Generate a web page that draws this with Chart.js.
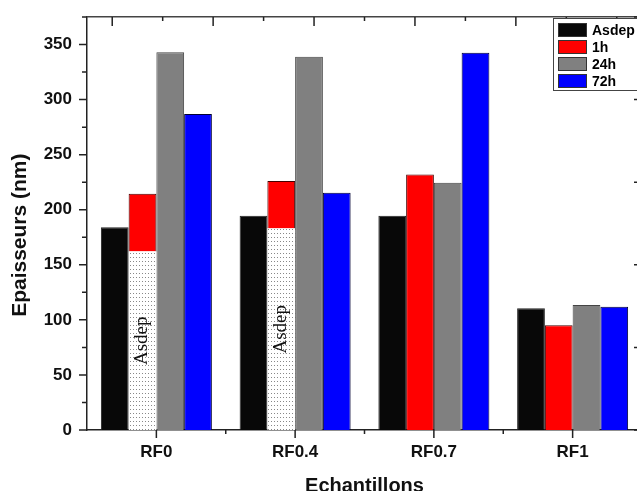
<!DOCTYPE html>
<html>
<head>
<meta charset="utf-8">
<script src="https://cdn.jsdelivr.net/npm/chart.js@4.4.1/dist/chart.umd.min.js"></script>
<style>
    html, body { margin: 0; padding: 0; background: #fff; overflow: hidden; }
    #chart { display: block; }
</style>
</head>
<body>
<canvas id="chart" width="645" height="491"></canvas>
<script>
// ---- data ----
const categories = ['RF0', 'RF0.4', 'RF0.7', 'RF1'];
const asdep = [184, 194.5, 194.5, 110.5];
const oneHour = [214.5, 226, 232, 95];
const oneHourAsdepPart = [162, 183, null, null];   // dotted "Asdep" part inside the 1h bar
const day = [343, 339, 224.5, 113.5];
const threeDays = [287, 215.5, 342.5, 112];

const seriesLabels = ['Asdep', '1h', '24h', '72h'];
const seriesColors = ['#080808', '#ff0000', '#808080', '#0000ff'];

/**
 * White tile with small dots, used for the "Asdep" part of the 1h bars
 */
function dotPattern() {
    const c = document.createElement('canvas');
    c.width = 3;
    c.height = 4;
    const g = c.getContext('2d');
    g.fillStyle = '#fff';
    g.fillRect(0, 0, 3, 4);
    g.fillStyle = '#888';
    g.fillRect(1, 1, 1, 1);
    return g.createPattern(c, 'repeat');
}

// ticks on all four frame sides (Origin style, minor + major, in or out)
const frameTicks = {
    id: 'frameTicks',
    afterDraw(chart, args, opts) {
        const ctx = chart.ctx;
        const area = chart.chartArea;
        ctx.save();
        ctx.strokeStyle = '#222';
        ctx.lineWidth = 1.5;
        for (const [id, cfg] of Object.entries(opts.axes)) {
            const scale = chart.scales[id];
            const marks = [];
            if (scale.type === 'category') {
                scale.ticks.forEach((t, i) => {
                    marks.push([scale.getPixelForTick(i), cfg.major]);
                    if (i < scale.ticks.length - 1) {
                        marks.push([(scale.getPixelForTick(i) + scale.getPixelForTick(i + 1)) / 2, cfg.minor]);
                    }
                });
            } else {
                scale.ticks.forEach(t => {
                    const r = t.value / cfg.step;
                    const major = Math.abs(r - Math.round(r)) < 1e-6;
                    marks.push([scale.getPixelForValue(t.value), major ? cfg.major : cfg.minor]);
                });
            }
            const sign = cfg.dir === 'out' ? 1 : -1;
            ctx.beginPath();
            marks.forEach(([p, len]) => {
                if (scale.position === 'left') {
                    ctx.moveTo(area.left, p); ctx.lineTo(area.left - sign * len, p);
                } else if (scale.position === 'right') {
                    ctx.moveTo(area.right, p); ctx.lineTo(area.right + sign * len, p);
                } else if (scale.position === 'top') {
                    ctx.moveTo(p, area.top); ctx.lineTo(p, area.top - sign * len);
                } else {
                    ctx.moveTo(p, area.bottom); ctx.lineTo(p, area.bottom + sign * len);
                }
            });
            ctx.stroke();
        }
        ctx.restore();
    }
};

// rotated "Asdep" text inside the dotted segments
const segmentText = {
    id: 'segmentText',
    afterDatasetsDraw(chart) {
        const idx = chart.data.datasets.findIndex(d => d.segment);
        const meta = chart.getDatasetMeta(idx);
        const ctx = chart.ctx;
        ctx.save();
        ctx.font = '19px "Liberation Serif", "DejaVu Serif", serif';
        ctx.fillStyle = '#111';
        ctx.textAlign = 'center';
        ctx.textBaseline = 'middle';
        meta.data.forEach((bar, i) => {
            if (chart.data.datasets[idx].data[i] == null) return;
            ctx.save();
            ctx.translate(bar.x, (bar.y + bar.base) / 2);
            ctx.rotate(-Math.PI / 2);
            ctx.fillText('Asdep', 0, 0);
            ctx.restore();
        });
        ctx.restore();
    }
};

// boxed legend in the upper right corner
const boxLegend = {
    id: 'boxLegend',
    afterDraw(chart) {
        const ctx = chart.ctx;
        const area = chart.chartArea;
        const x = 553, y = area.top + 1, rowH = 17;
        ctx.save();
        ctx.fillStyle = '#fff';
        ctx.fillRect(x, y, area.right - x, rowH * seriesLabels.length + 4);
        ctx.strokeStyle = '#444';
        ctx.lineWidth = 1;
        ctx.strokeRect(x + 0.5, y + 0.5, area.right - x, rowH * seriesLabels.length + 4);
        ctx.font = 'bold 14px "Liberation Sans", Arial, sans-serif';
        ctx.textBaseline = 'middle';
        seriesLabels.forEach((label, i) => {
            const top = y + 5 + i * rowH;
            ctx.fillStyle = seriesColors[i];
            ctx.fillRect(x + 5, top, 29, 14);
            ctx.strokeStyle = '#333';
            ctx.strokeRect(x + 5.5, top + 0.5, 28, 13);
            ctx.fillStyle = '#000';
            ctx.fillText(label, x + 39, top + 8);
        });
        ctx.restore();
    }
};

const tickFont = { family: '"Liberation Sans", Arial, sans-serif', size: 17, weight: 'bold' };
const titleFont = { family: '"Liberation Sans", Arial, sans-serif', size: 20, weight: 'bold' };

const barStyle = { borderWidth: 1, borderColor: '#222', categoryPercentage: 0.8, barPercentage: 1.0 };

new Chart(document.getElementById('chart'), {
    type: 'bar',
    data: {
        labels: categories,
        datasets: [
            { label: seriesLabels[0], data: asdep, backgroundColor: seriesColors[0], stack: 's0', ...barStyle },
            { label: 'Asdep (1h)', data: oneHourAsdepPart, backgroundColor: dotPattern(), stack: 's1', segment: true,
              ...barStyle, borderWidth: 0 },
            { label: seriesLabels[1], data: oneHour.map((v, i) => v - (oneHourAsdepPart[i] || 0)),
              backgroundColor: seriesColors[1], stack: 's1', ...barStyle, borderColor: '#400' },
            { label: seriesLabels[2], data: day, backgroundColor: seriesColors[2], stack: 's2', ...barStyle, borderColor: '#444' },
            { label: seriesLabels[3], data: threeDays, backgroundColor: seriesColors[3], stack: 's3', ...barStyle, borderColor: '#003' }
        ]
    },
    options: {
        responsive: false,
        animation: false,
        layout: { padding: 0 },
        plugins: {
            legend: { display: false },
            tooltip: { enabled: false },
            frameTicks: {
                axes: {
                    y: { dir: 'out', step: 50, major: 8, minor: 5 },
                    x: { dir: 'out', major: 8, minor: 4 },
                    x2: { dir: 'in', step: 1, major: 9, minor: 4 },
                    y2: { dir: 'in', step: 1, major: 8, minor: 4 }
                }
            }
        },
        scales: {
            x: {
                stacked: true,
                grid: { display: false },
                border: { display: true, color: '#222', width: 1.5 },
                ticks: { color: '#111', font: tickFont, padding: 4 },
                title: { display: true, text: 'Echantillons', color: '#111', font: titleFont, padding: { top: 0, bottom: -7 } },
                afterFit: s => { s.height = 61; s.paddingLeft = 0; s.paddingRight = 0; }
            },
            y: {
                stacked: true,
                min: 0,
                max: 375,
                grid: { display: false },
                border: { display: true, color: '#222', width: 1.5 },
                ticks: {
                    stepSize: 25,
                    autoSkip: false,
                    color: '#111',
                    font: tickFont,
                    padding: 7,
                    callback: v => (v % 50 === 0 ? v : '')
                },
                title: { display: true, text: 'Epaisseurs (nm)\u00a0\u00a0\u00a0\u00a0', color: '#111',
                         font: { ...titleFont, size: 21 }, padding: { top: 8, bottom: 0 } },
                afterFit: s => { s.width = 87; s.paddingTop = 0; s.paddingBottom = 0; }
            },
            x2: {
                type: 'linear',
                position: 'top',
                min: 0,
                max: 5,
                grid: { display: false },
                border: { display: true, color: '#444', width: 1.5 },
                ticks: { display: false, stepSize: 0.5 },
                afterFit: s => { s.height = 17; }
            },
            y2: {
                type: 'linear',
                position: 'right',
                min: 0,
                max: 5,
                grid: { display: false },
                border: { display: true, color: '#222', width: 1.5 },
                ticks: { display: false, stepSize: 0.5 },
                afterFit: s => { s.width = 3; s.paddingTop = 0; s.paddingBottom = 0; }
            }
        }
    },
    plugins: [frameTicks, segmentText, boxLegend]
});
</script>
</body>
</html>
